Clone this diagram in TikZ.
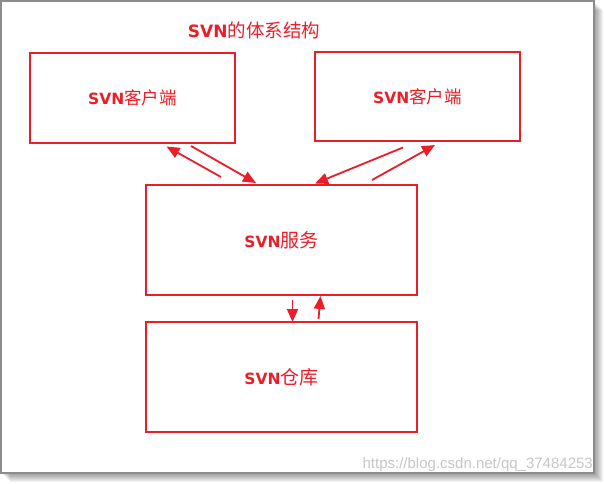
\documentclass[tikz,border=0pt]{standalone}
\usepackage{fontspec}
\newfontfamily\cjk{Noto Sans CJK SC}
\newfontfamily\lat{DejaVu Sans}
\newfontfamily\wm{Liberation Sans}
\usetikzlibrary{arrows.meta}
\definecolor{svnred}{RGB}{234,30,40}
\newcommand{\lbl}[3]{{\lat\bfseries\fontsize{15.5}{18}\selectfont #1}{\cjk\fontsize{#3}{20}\selectfont #2}}
\tikzset{
  box/.style={draw=svnred, line width=1.8pt, inner sep=0pt, text=svnred},
  conn/.style={draw=svnred, fill=svnred, line width=1.8pt, -{Triangle[length=13pt,width=11pt]}},
}
\begin{document}
\begin{tikzpicture}[x=1pt,y=-1pt]
\useasboundingbox (0,0) rectangle (604,483);
% frame with shadow
\foreach \i in {1,...,9}
  \fill[black,opacity=0.05] (\i+1,\i+1) rectangle (594+\i,473+\i);
\draw[fill=white, draw=black!45, line width=1.5pt] (0.75,0.75) rectangle (594,473);
% title
\node[text=svnred] (title) at (254,30) {{\lat\bfseries\fontsize{17}{20}\selectfont SVN}{\cjk\fontsize{18.5}{22}\selectfont 的体系结构}};
% boxes
\node[box, minimum width=205pt, minimum height=90pt] (c1) at (132.5,98) {\lbl{SVN}{客户端}{17.5}};
\node[box, minimum width=205pt, minimum height=89pt] (c2) at (417.5,96.5) {\lbl{SVN}{客户端}{17.5}};
\node[box, minimum width=271pt, minimum height=110pt] (srv) at (281.5,240) {\lbl{SVN}{服务}{19}};
\node[box, minimum width=271pt, minimum height=110pt] (repo) at (281.5,377) {\lbl{SVN}{仓库}{19}};
% connector end points
\coordinate (a1s) at (221,177);
\coordinate (a1e) at (166.5,146.5);
\coordinate (a2s) at (191,146);
\coordinate (a2e) at (256,183);
\coordinate (a3s) at (403,147.5);
\coordinate (a3e) at (315,183.5);
\coordinate (a4s) at (372,180);
\coordinate (a4e) at (435,145);
\coordinate (a5s) at (292.5,300);
\coordinate (a5e) at (292.5,322);
\coordinate (a6s) at (318.5,319);
\coordinate (a6e) at (320.5,296);
\draw[conn] (a1s) -- (a1e);
\draw[conn] (a2s) -- (a2e);
\draw[conn] (a3s) -- (a3e);
\draw[conn] (a4s) -- (a4e);
\draw[conn] (a5s) -- (a5e);
\draw[conn] (a6s) -- (a6e);
% watermark
\node[anchor=east, text=black!22, inner sep=0pt] (wmark) at (593,465) {\wm\fontsize{15}{18}\selectfont https://blog.csdn.net/qq\_37484253};
\end{tikzpicture}
\end{document}
